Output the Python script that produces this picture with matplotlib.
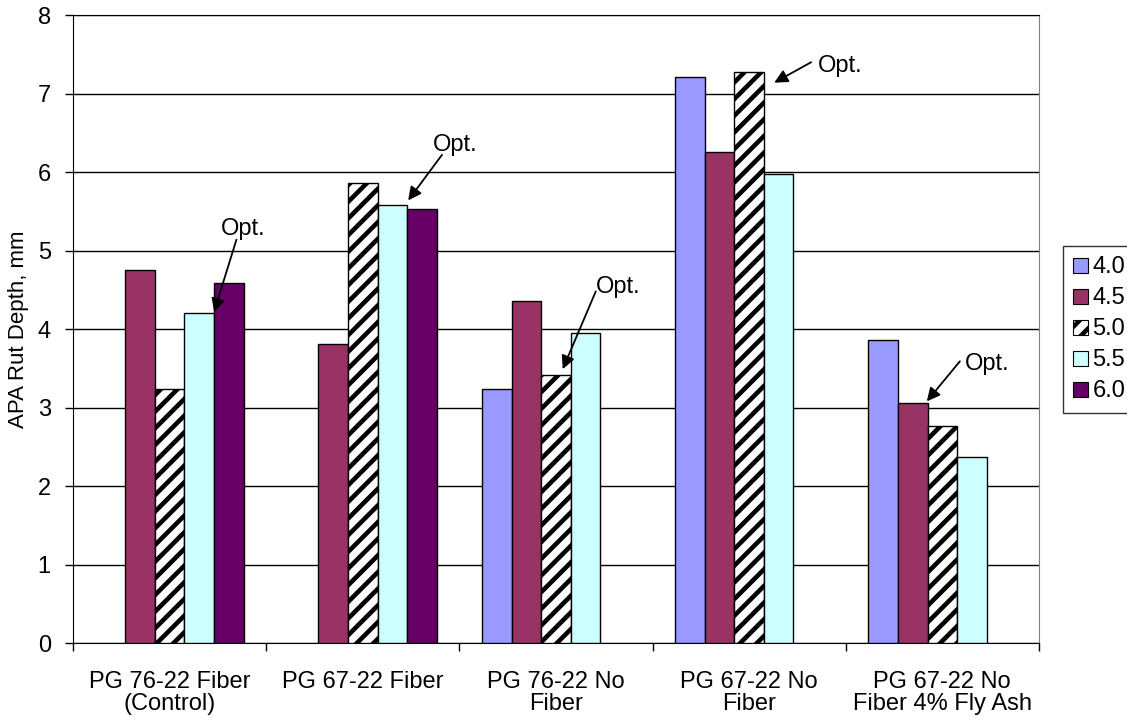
import numpy as np
import matplotlib
matplotlib.use('Agg')
import matplotlib.pyplot as plt
from matplotlib.patches import Patch

plt.rcParams['font.family'] = ['Liberation Sans', 'DejaVu Sans']
plt.rcParams['hatch.linewidth'] = 3.3

# ── dados ─────────────────────────────────────────────
grupos = ['PG 76-22 Fiber\n(Control)', 'PG 67-22 Fiber', 'PG 76-22 No\nFiber',
          'PG 67-22 No\nFiber', 'PG 67-22 No\nFiber 4% Fly Ash']
teores = ['4.0', '4.5', '5.0', '5.5', '6.0']
v40 = [np.nan, np.nan, 3.24, 7.21, 3.86]
v45 = [4.75, 3.81, 4.36, 6.26, 3.06]
v50 = [3.24, 5.86, 3.41, 7.28, 2.76]
v55 = [4.21, 5.58, 3.95, 5.98, 2.37]
v60 = [4.59, 5.53, np.nan, np.nan, np.nan]
series = [v40, v45, v50, v55, v60]

# anotações "Opt." : (texto, cauda, ponta) em coordenadas de dados
opt_texto = [(0.38, 5.27), (1.48, 6.35), (2.32, 4.54), (3.47, 7.35), (4.23, 3.55)]
opt_cauda = [(0.346, 5.14), (1.41, 6.22), (2.206, 4.48), (3.321, 7.40), (4.091, 3.59)]
opt_ponta = [(0.23, 4.22), (1.235, 5.64), (2.035, 3.49), (3.13, 7.14), (3.92, 3.08)]

cores = ['#9999FF', '#993366', 'white', '#CCFFFF', '#660066']
hatches = [None, None, '//', None, None]

# ── gráfico ───────────────────────────────────────────
fig = plt.figure(figsize=(11.27, 7.21), dpi=100)
ax = fig.add_axes([0.0648, 0.108, 0.857, 0.871])

x = np.arange(len(grupos))
w = 0.153
for j, vals in enumerate(series):
    ax.bar(x + (j - 2) * w, vals, width=w, color=cores[j], edgecolor='black',
           linewidth=1.0, hatch=hatches[j], zorder=3)

for t, c, p in zip(opt_texto, opt_cauda, opt_ponta):
    ax.text(t[0], t[1], 'Opt.', fontsize=17, ha='center', va='center', zorder=5)
    ax.annotate('', xy=p, xytext=c, zorder=5,
                arrowprops=dict(arrowstyle='-|>', color='black', lw=1.3,
                                mutation_scale=20, shrinkA=0, shrinkB=0))

ax.set_xlim(-0.5, 4.5)
ax.set_ylim(0, 8)
ax.set_yticks(range(0, 9))
ax.yaxis.grid(True, color='black', linewidth=1.0, zorder=0)
ax.set_axisbelow(True)

ax.set_xticks(x)
ax.set_xticklabels(grupos, fontsize=17, linespacing=1.0)
ax.tick_params(axis='x', which='major', length=0, pad=20)
ax.set_xticks(np.arange(-0.5, 5.0, 1.0), minor=True)
ax.tick_params(axis='x', which='minor', length=6, width=1, direction='out')
ax.tick_params(axis='y', labelsize=17, length=6, width=1, direction='out', pad=10)

ax.set_ylabel('APA Rut Depth, mm', fontsize=16, labelpad=6)

ax.spines['left'].set_color('black')
ax.spines['bottom'].set_color('black')
ax.spines['top'].set_color('black')
ax.spines['right'].set_color('#808080')

handles = [Patch(facecolor=cores[j], edgecolor='black', hatch=hatches[j], linewidth=0.8)
           for j in range(len(teores))]
leg = fig.legend(handles, teores, loc='upper left', bbox_to_anchor=(0.943, 0.659),
                 fontsize=17, frameon=True, fancybox=False, edgecolor='black',
                 handlelength=0.6, handleheight=0.6, handletextpad=0.2,
                 labelspacing=0.38, borderpad=0.45, borderaxespad=0)
leg.get_frame().set_linewidth(1.0)

fig.savefig('out.png', dpi=100)
